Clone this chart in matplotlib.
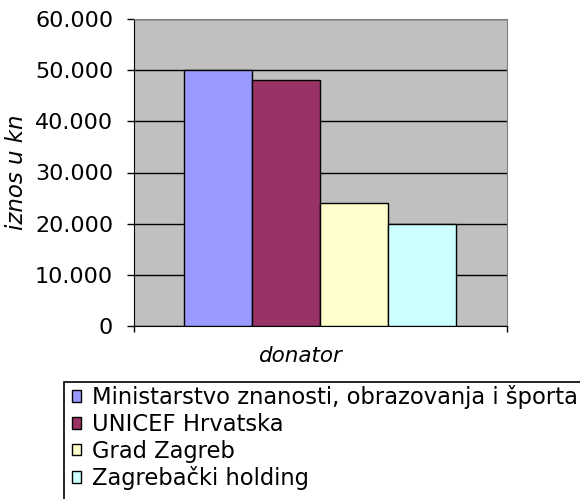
import numpy as np
import matplotlib
matplotlib.use('Agg')
import matplotlib.pyplot as plt
from matplotlib.patches import Rectangle, Patch
from matplotlib.ticker import FuncFormatter, MultipleLocator

donors = ['Ministarstvo znanosti, obrazovanja i športa', 'UNICEF Hrvatska',
          'Grad Zagreb', 'Zagrebački holding']
amounts = [50000, 48000, 24000, 20000]
colors = ['#9999FF', '#993366', '#FFFFCC', '#CCFFFF']

W, H = 580, 499
fig = plt.figure(figsize=(W / 100, H / 100), dpi=100)
ax = fig.add_axes([134 / W, 1 - 326 / H, (507 - 134) / W, (326 - 19) / H])
ax.set_facecolor('#C0C0C0')

bw = 0.729 / len(donors)
offsets = (np.arange(len(donors)) - (len(donors) - 1) / 2) * bw
for off, val, col in zip(offsets, amounts, colors):
    ax.bar(off - 0.002, val, width=bw, color=col, edgecolor='black', linewidth=1, zorder=3)

ax.set_xlim(-0.5, 0.5)
ax.set_ylim(0, 60000)
ax.yaxis.set_major_locator(MultipleLocator(10000))
ax.yaxis.set_major_formatter(FuncFormatter(lambda v, p: f'{int(v):,}'.replace(',', '.')))
ax.grid(axis='y', color='black', linewidth=1, zorder=1)
ax.set_xticks([-0.5, 0.5])
ax.set_xticklabels([])
ax.tick_params(axis='y', direction='out', length=5, width=1, labelsize=16, pad=10)
ax.tick_params(axis='x', direction='out', length=4, width=1)
for s in ['left', 'bottom']:
    ax.spines[s].set_color('black')
for s in ['top', 'right']:
    ax.spines[s].set_color('#808080')
ax.set_ylabel('iznos u kn', fontsize=16.5, style='italic')
ax.yaxis.set_label_coords((17 - 134) / 373, 0.5)
ax.set_xlabel('donator', fontsize=15.5, style='italic')
ax.xaxis.set_label_coords((300 - 134) / 373, -(356 - 326) / 307)
ax.xaxis.label.set_va('center')
ax.yaxis.label.set_va('center')

# legend box runs past the figure edge
fig.patches.append(Rectangle((64 / W, -0.1), 1.2, 1 - 382 / H + 0.1,
                             transform=fig.transFigure, fill=False,
                             edgecolor='black', linewidth=1.2))
handles = [Patch(facecolor=c, edgecolor='black', linewidth=1) for c in colors]
fig.legend(handles, donors, loc='upper left', bbox_to_anchor=(70 / W, 1 - 383 / H),
           frameon=False, fontsize=16.3, handlelength=0.4, handleheight=0.4,
           handletextpad=0.45, labelspacing=0.16, borderpad=0.1, borderaxespad=0)

fig.savefig('out.png', dpi=100)
